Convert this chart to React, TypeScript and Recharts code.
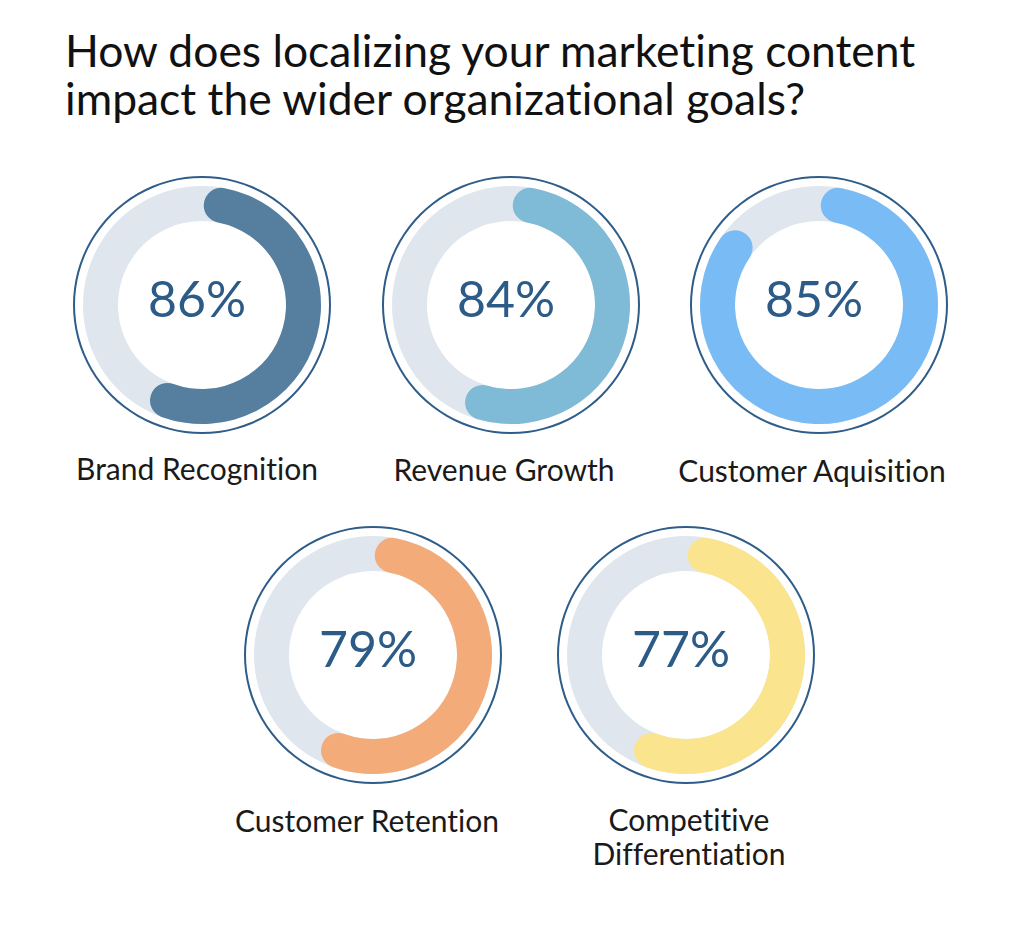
import { Cell, Pie, PieChart } from "recharts";

const goals = [
    "Brand Recognition",
    "Revenue Growth",
    "Customer Aquisition",
    "Customer Retention",
    "Competitive Differentiation",
];
const percentLabels = [86, 84, 85, 79, 77];
// how much of the ring the coloured arc covers, as drawn in the picture
const arcShares = [58, 57, 87, 58, 58];
const arcColors = ["#557e9f", "#7fbad6", "#79bcf5", "#f3ab7a", "#fae48d"];

// layout (pixel centres of each gauge, label anchor)
const centers = [
    [197, 300],
    [506, 300],
    [814, 300],
    [368, 650],
    [681, 650],
];
const labelPos = [
    [197, 468],
    [504, 469],
    [812, 470],
    [367, 820],
    [689, 836],
];

const TRACK = "#dfe6ee";
const OUTLINE = "#2f5d8a";
const TEXT_BLUE = "#2d5b87";

export default function App() {
    return (
        <div
            style={{
                position: "absolute",
                top: 0,
                left: 0,
                width: 1024,
                height: 934,
                background: "#fff",
                fontFamily: "Lato, sans-serif",
                fontVariantLigatures: "none",
            }}
        >
            <div style={{ position: "absolute", left: 65, top: 26, fontSize: 44.4, lineHeight: "48px", color: "#111", whiteSpace: "nowrap" }}>
                How does localizing your marketing content
                <br />
                impact the wider organizational goals?
            </div>

            <PieChart width={1024} height={934} style={{ position: "absolute", top: 0, left: 0 }}>
                {goals.map((g, i) => (
                    <Pie
                        key={g + "-outline"}
                        data={[{ v: 1 }]}
                        dataKey="v"
                        cx={centers[i][0]}
                        cy={centers[i][1]}
                        innerRadius={127}
                        outerRadius={129}
                        startAngle={90}
                        endAngle={-270}
                        fill={OUTLINE}
                        stroke="none"
                        isAnimationActive={false}
                    />
                ))}
                {goals.map((g, i) => (
                    <Pie
                        key={g + "-track"}
                        data={[{ v: 1 }]}
                        dataKey="v"
                        cx={centers[i][0]}
                        cy={centers[i][1]}
                        innerRadius={84}
                        outerRadius={119}
                        startAngle={90}
                        endAngle={-270}
                        fill={TRACK}
                        stroke="none"
                        isAnimationActive={false}
                    />
                ))}
                {goals.map((g, i) => (
                    <Pie
                        key={g + "-arc"}
                        data={[{ v: arcShares[i] }, { v: 100 - arcShares[i] }]}
                        dataKey="v"
                        cx={centers[i][0]}
                        cy={centers[i][1]}
                        innerRadius={84}
                        outerRadius={119}
                        startAngle={89}
                        endAngle={-271}
                        cornerRadius={17.5}
                        stroke="none"
                        isAnimationActive={false}
                    >
                        <Cell fill={arcColors[i]} />
                        <Cell fill="transparent" />
                    </Pie>
                ))}
            </PieChart>

            {goals.map((g, i) => (
                <div
                    key={g + "-pct"}
                    style={{
                        position: "absolute",
                        left: centers[i][0] - 100,
                        top: centers[i][1] - 32,
                        width: 200,
                        lineHeight: "60px",
                        textAlign: "center",
                        fontSize: 50,
                        color: TEXT_BLUE,
                    }}
                >
                    {percentLabels[i]}%
                </div>
            ))}

            {goals.map((g, i) => (
                <div
                    key={g + "-label"}
                    style={{
                        position: "absolute",
                        left: labelPos[i][0] - 170,
                        top: labelPos[i][1] - (i === 4 ? 34 : 17),
                        width: 340,
                        lineHeight: "34px",
                        textAlign: "center",
                        fontSize: 30,
                        color: "#1a1a1a",
                        whiteSpace: "nowrap",
                    }}
                >
                    {i === 4 ? (
                        <>
                            Competitive
                            <br />
                            Differentiation
                        </>
                    ) : (
                        g
                    )}
                </div>
            ))}
        </div>
    );
}
